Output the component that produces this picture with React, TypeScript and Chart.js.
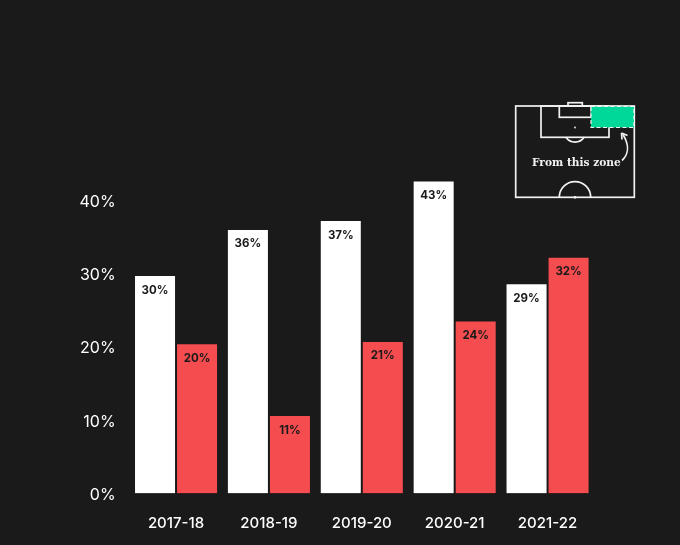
import React, { useEffect, useRef } from "react";
import { Chart, registerables } from "chart.js";

Chart.register(...registerables);

const seasons = ["2017-18", "2018-19", "2019-20", "2020-21", "2021-22"];
const whiteValues = [29.8, 36.1, 37.3, 42.7, 28.7];
const redValues = [20.5, 10.7, 20.8, 23.6, 32.3];
const whiteLabels = ["30%", "36%", "37%", "43%", "29%"];
const redLabels = ["20%", "11%", "21%", "24%", "32%"];
const tickValues = [0, 10, 20, 30, 40];

const BG = "#1a1a1a";
const RED = "#f54c4f";
const FONT = "Inter, 'Noto Sans', sans-serif";

const barLabels = {
  id: "barLabels",
  afterDatasetsDraw(chart: any) {
    const ctx = chart.ctx;
    ctx.save();
    ctx.font = `700 11.5px ${FONT}`;
    ctx.fillStyle = "#1a1a1a";
    ctx.textAlign = "center";
    ctx.textBaseline = "middle";
    [whiteLabels, redLabels].forEach((labels, d) => {
      chart.getDatasetMeta(d).data.forEach((el: any, i: number) => {
        ctx.fillText(labels[i], el.x, el.y + 15);
      });
    });
    ctx.restore();
  },
};

export default function App() {
  const ref = useRef<HTMLCanvasElement>(null);

  useEffect(() => {
    document.body.style.margin = "0";
    document.body.style.background = BG;
    const chart = new Chart(ref.current!, {
      type: "bar",
      data: {
        labels: seasons,
        datasets: [
          { data: whiteValues, backgroundColor: "#ffffff", borderColor: BG, borderWidth: 1 },
          { data: redValues, backgroundColor: RED, borderColor: BG, borderWidth: 1 },
        ],
      },
      options: {
        animation: false,
        responsive: false,
        events: [],
        layout: { padding: { top: 53.7 } },
        plugins: { legend: { display: false }, tooltip: { enabled: false }, title: { display: false } },
        datasets: { bar: { categoryPercentage: 0.905, barPercentage: 1 } },
        scales: {
          x: {
            grid: { display: false },
            border: { display: false },
            ticks: { color: "#ffffff", font: { family: FONT, size: 15, weight: "500" }, padding: 13, maxRotation: 0 },
            afterFit(s: any) {
              s.height = 51.5;
              s.paddingLeft = 0;
              s.paddingRight = 0;
            },
          },
          y: {
            min: 0,
            max: 60,
            grid: { display: false },
            border: { display: false },
            afterFit(s: any) {
              s.width = 129.6;
            },
            afterBuildTicks(s: any) {
              s.ticks = tickValues.map((value) => ({ value }));
            },
            ticks: {
              color: "#ffffff",
              font: { family: FONT, size: 16 },
              padding: 6,
              labelOffset: 1.5,
              callback: (v: any) => `${v}%`,
            },
          },
        },
      } as any,
      plugins: [barLabels],
    });
    return () => chart.destroy();
  }, []);

  return (
    <div style={{ position: "relative", width: 680, height: 545, background: BG, overflow: "hidden" }}>
      <div style={{ position: "absolute", left: 0, top: 0, width: 594, height: 545 }}>
        <canvas ref={ref} width={594} height={545} style={{ display: "block" }} />
      </div>
      <svg width={680} height={545} style={{ position: "absolute", left: 0, top: 0 }}>
        <g fill="none" stroke="#f2f2f2" strokeWidth={1.7}>
          <rect x={515.7} y={106} width={118.6} height={91.3} />
          <rect x={541} y={106} width={68} height={31.3} />
          <rect x={559.3} y={106} width={32} height={11.3} />
          <rect x={568} y={102.7} width={14.3} height={3.3} />
          <path d="M565.9 137.3 A11 11 0 0 0 584.1 137.3" />
          <path d="M559.3 197.3 A15.7 15.7 0 0 1 590.7 197.3" />
        </g>
        <circle cx={575} cy={127.5} r={0.9} fill="#f2f2f2" />
        <circle cx={575} cy={197.3} r={1.4} fill="#f2f2f2" />
        <rect x={591} y={106.5} width={43} height={21} fill="#00d89a" stroke="#f2f2f2" strokeWidth={1.2} strokeDasharray="4 2.5" />
        <text x={532} y={165.5} fill="#f2f2f2" fontFamily="'DejaVu Serif', serif" fontWeight={700} fontSize={10.6}>
          From this zone
        </text>
        <path d="M622 160.5 C628 155 630 146 623 134.5" fill="none" stroke="#f2f2f2" strokeWidth={1.7} />
        <path d="M621.5 133 L622 139.5 M621.5 133 L627.5 135.5" fill="none" stroke="#f2f2f2" strokeWidth={1.7} />
      </svg>
    </div>
  );
}
